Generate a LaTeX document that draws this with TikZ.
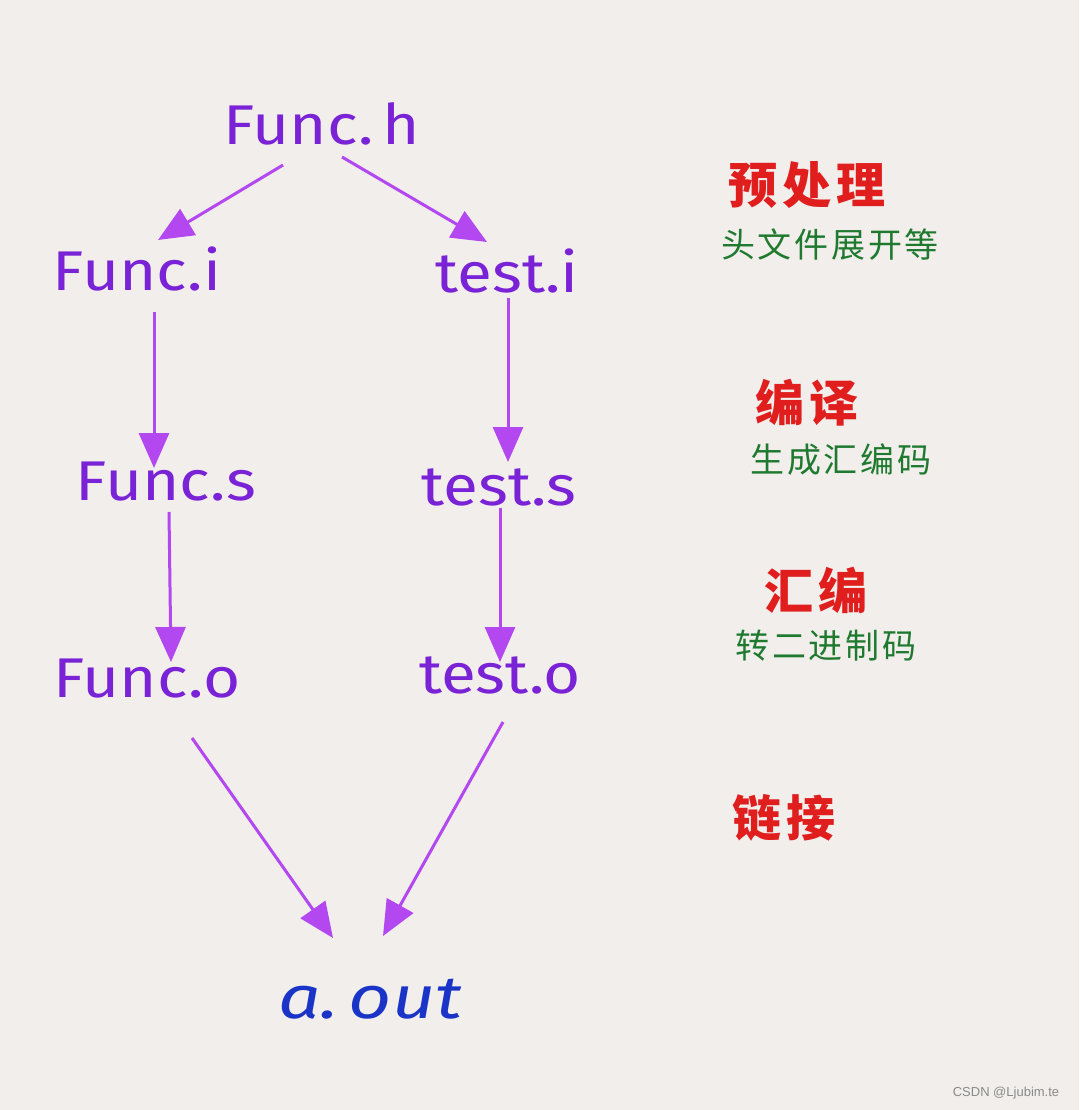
\documentclass[tikz,border=0pt]{standalone}
\usepackage{fontspec}
\setmainfont{Liberation Sans}
\newfontfamily\cjkred[LetterSpace=10]{Noto Sans CJK SC}
\newfontfamily\cjkgrn[LetterSpace=8]{Noto Sans CJK SC}
\newfontfamily\hand[FakeStretch=1.14]{Fira Sans}
\newfontfamily\handout[FakeStretch=1.25]{Fira Sans}
\usetikzlibrary{arrows.meta}
\definecolor{bgc}{HTML}{F1EEEB}
\definecolor{txtp}{HTML}{7A22D6}
\definecolor{arrp}{HTML}{B348F0}
\definecolor{outb}{HTML}{1B34C8}
\definecolor{redc}{HTML}{E01E1E}
\definecolor{grnc}{HTML}{1F7A30}
\definecolor{grayc}{HTML}{8A8A8A}
\tikzset{
  file/.style={inner sep=0pt, anchor=base, text=txtp, font=\hand\fontsize{56}{60}\selectfont},
  outfile/.style={inner sep=0pt, anchor=base, text=outb, font=\handout\itshape\fontsize{60}{66}\selectfont},
  stage/.style={inner sep=0pt, text=redc, font=\cjkred\bfseries\fontsize{49}{54}\selectfont},
  note/.style={inner sep=0pt, text=grnc, font=\cjkgrn\fontsize{34}{40}\selectfont},
  flow/.style={draw=arrp, line width=3pt, -{Triangle[length=35pt,width=30pt]}}
}
\begin{document}
\begin{tikzpicture}[x=1pt,y=-1pt]
\fill[bgc] (0,0) rectangle (1079,1110);
\useasboundingbox (0,0) rectangle (1079,1110);

\node[file] (fh) at (322,145) {Func.\,h};
\node[file] (fi) at (137,290) {Func.i};
\node[file] (ti) at (507,292) {test.i};
\node[file] (fs) at (166,500) {Func.s};
\node[file] (ts) at (499,505) {test.s};
\node[file] (fo) at (147,697) {Func.o};
\node[file] (to) at (500,693) {test.o};
\node[outfile] (ao) at (370,1018) {a.\,out};

\draw[flow] ([shift={(-39,20)}]fh.base) -- ([shift={(21,-50)}]fi.base);
\draw[flow] ([shift={(20,12)}]fh.base) -- ([shift={(-20,-50)}]ti.base);
\draw[flow] ([shift={(17,22)}]fi.base) -- ([shift={(-12,-32)}]fs.base);
\draw[flow] ([shift={(1,6)}]ti.base) -- ([shift={(9,-43)}]ts.base);
\draw[flow] ([shift={(3,12)}]fs.base) -- ([shift={(24,-35)}]fo.base);
\draw[flow] ([shift={(1,3)}]ts.base) -- ([shift={(0,-31)}]to.base);
\draw[flow] ([shift={(45,41)}]fo.base) -- ([shift={(-37,-80)}]ao.base);
\draw[flow] ([shift={(3,29)}]to.base) -- ([shift={(13,-82)}]ao.base);

\node[stage] (s1) at (807,185) {预处理};
\node[note] (n1) at (830,245) {头文件展开等};
\node[stage] (s2) at (807,403) {编译};
\node[note] (n2) at (841,460) {生成汇编码};
\node[stage] (s3) at (816,590) {汇编};
\node[note] (n3) at (826,646) {转二进制码};
\node[stage] (s4) at (784,818) {链接};

\node[inner sep=0pt, text=grayc, font=\fontsize{13}{15}\selectfont] (wm) at (1006,1093) {CSDN @Ljubim.te};
\end{tikzpicture}
\end{document}
